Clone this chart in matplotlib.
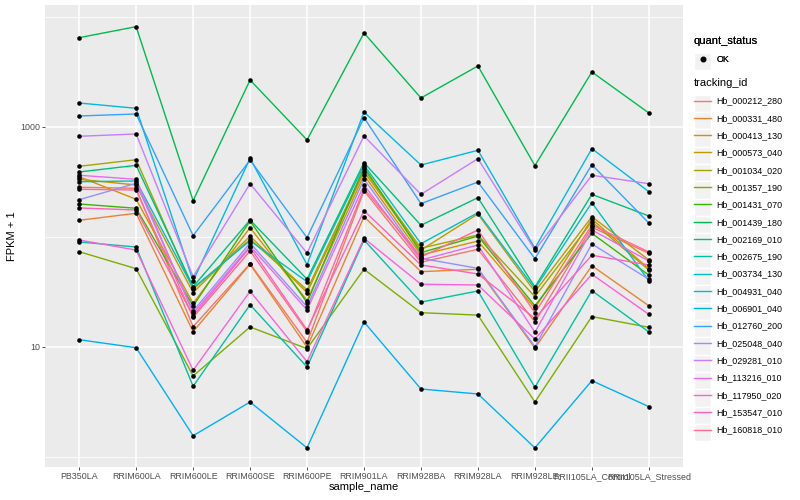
import matplotlib
matplotlib.use('Agg')
import matplotlib.pyplot as plt
from matplotlib.legend_handler import HandlerLine2D
from matplotlib.lines import Line2D
from matplotlib.patches import Rectangle
from matplotlib.ticker import FixedLocator
import numpy as np

plt.rcParams['font.family'] = ['Liberation Sans', 'DejaVu Sans']

# Data (FPKM)
samples = ['PB350LA', 'RRIM600LA', 'RRIM600LE', 'RRIM600SE', 'RRIM600PE',
           'RRIM901LA', 'RRIM928BA', 'RRIM928LA', 'RRIM928LE',
           'RRII105LA_Control', 'RRII105LA_Stressed']

tracking_ids = ['Hb_000212_280', 'Hb_000331_480', 'Hb_000413_130', 'Hb_000573_040',
                'Hb_001034_020', 'Hb_001357_190', 'Hb_001431_070', 'Hb_001439_180',
                'Hb_002169_010', 'Hb_002675_190', 'Hb_003734_130', 'Hb_004931_040',
                'Hb_006901_040', 'Hb_012760_200', 'Hb_025048_040', 'Hb_029281_010',
                'Hb_113216_010', 'Hb_117950_020', 'Hb_153547_010', 'Hb_160818_010']

hb_000212_280 = [282, 276, 14.3, 56.2, 10.0, 262.6, 57.9, 76.3, 15.9, 121.5, 70.1]
hb_000331_480 = [140.8, 163.3, 12.8, 55.5, 8.94, 151.9, 47.4, 49.9, 8.79, 53.8, 22.7]
hb_000413_130 = [352, 219, 23.9, 120.5, 25.4, 365, 67.6, 90.9, 21.5, 144.8, 50.5]
hb_000573_040 = [333.6, 296, 30.2, 101, 30.2, 391, 75, 160.8, 30.8, 151.9, 60.8]
hb_001034_020 = [438, 503, 32.5, 94.3, 32.0, 411.6, 78, 103.3, 27.7, 136.8, 49.1]
hb_001357_190 = [72.5, 50.5, 4.45, 14.2, 8.65, 49.9, 19.5, 18.5, 2.16, 17.9, 14.1]
hb_001431_070 = [198.5, 181.4, 22.6, 138.8, 24.3, 432, 71, 101, 22.7, 107, 44.1]
hb_001439_180 = [6485, 8165, 213, 2673, 761, 7154, 1834, 3585, 444, 3161, 1340]
hb_002169_010 = [389, 447, 34.3, 141.7, 40.3, 473, 126.8, 226.7, 34.1, 243, 154.2]
hb_002675_190 = [89.1, 80.1, 3.39, 23.2, 5.58, 92.9, 24.6, 31.3, 3.30, 31.5, 12.7]
hb_003734_130 = [317, 322, 33.4, 91.6, 38.2, 450, 85.9, 165.3, 32.9, 204, 39]
hb_004931_040 = [1651, 1478, 38.8, 518, 55, 1367, 450, 613, 78, 634, 257]
hb_006901_040 = [10.65, 8.85, 0.56, 2.16, 0.21, 15.88, 3.15, 2.74, 0.21, 3.94, 1.87]
hb_012760_200 = [1258, 1312, 101.8, 500, 97.5, 1215, 199.8, 315, 62.5, 453, 133]
hb_025048_040 = [217.3, 306.7, 20.2, 87.2, 22.2, 335.6, 63, 50.9, 9.06, 85.4, 40.3]
hb_029281_010 = [822, 863, 42.6, 304, 70.5, 827, 243, 514, 75, 363, 304]
hb_113216_010 = [363, 333.6, 19.2, 81.8, 20.7, 296, 60.8, 83.6, 12.6, 114.8, 59.5]
hb_117950_020 = [92.9, 75, 5.14, 31.1, 6.35, 96.3, 36.2, 35.6, 10.8, 44.8, 18.8]
hb_153547_010 = [182.5, 175, 18.25, 79.6, 13.3, 172.4, 54.7, 45.1, 17.2, 67.2, 54.7]
hb_160818_010 = [270.5, 266.4, 17.6, 73.6, 12.8, 273.9, 64.8, 114.8, 19.5, 127.5, 72.1]

series = [hb_000212_280, hb_000331_480, hb_000413_130, hb_000573_040, hb_001034_020,
          hb_001357_190, hb_001431_070, hb_001439_180, hb_002169_010, hb_002675_190,
          hb_003734_130, hb_004931_040, hb_006901_040, hb_012760_200, hb_025048_040,
          hb_029281_010, hb_113216_010, hb_117950_020, hb_153547_010, hb_160818_010]

# ggplot2 default hue palette, 20 levels
colors = ['#F8766D', '#EA8331', '#D89000', '#C09B00', '#A3A500', '#7CAE00', '#39B600',
          '#00BB4E', '#00BF7D', '#00C1A3', '#00BFC4', '#00BAE0', '#00B0F6', '#35A2FF',
          '#9590FF', '#C77CFF', '#E76BF3', '#FA62DB', '#FF62BC', '#FF6C91']


class KeyHandler(HandlerLine2D):
    # legend key with the grey ggplot box behind it, nudged to sit level with the label
    def create_artists(self, legend, orig_handle, xdescent, ydescent, width, height,
                       fontsize, trans):
        arts = super().create_artists(legend, orig_handle, xdescent, ydescent,
                                      width, height, fontsize, trans)
        d = 0.3 * fontsize
        for a in arts:
            a.set_ydata(np.asarray(a.get_ydata(), dtype=float) - d)
        bg = Rectangle((-xdescent, -ydescent - d), width, height, facecolor='#F2F2F2',
                       edgecolor='white', lw=1.0, transform=trans)
        return [bg] + list(arts)


fig = plt.figure(figsize=(8, 5), dpi=100)
ax = fig.add_axes([45/800, 1-467/500, (683-45)/800, (467-5)/500])
ax.set_facecolor('#EBEBEB')
for s in ax.spines.values():
    s.set_visible(False)

x = np.arange(len(samples))
for vals, col in zip(series, colors):
    ax.plot(x, np.array(vals) + 1, color=col, lw=1.0, zorder=2)
for vals in series:
    ax.plot(x, np.array(vals) + 1, 'o', color='black', ms=3.3, mew=0, zorder=3)

ax.set_yscale('log')
ax.set_ylim(0.811, 12850)
ax.set_xlim(-0.6, 10.6)
ax.set_yticks([10, 1000])
ax.set_yticklabels(['10', '1000'])
ax.yaxis.set_minor_locator(FixedLocator([1, 100, 10000]))
ax.yaxis.set_minor_formatter(plt.NullFormatter())
ax.set_xticks(x)
ax.set_xticklabels(samples)
ax.set_axisbelow(True)
ax.grid(which='major', color='white', lw=1.1)
ax.grid(which='minor', axis='y', color='white', lw=0.55)
ax.tick_params(which='major', length=2.0, width=0.6, color='#333333',
               labelcolor='#4D4D4D', labelsize=6.4, pad=1.6)
ax.tick_params(which='minor', length=0)

ax.set_xlabel('sample_name', fontsize=8, labelpad=1)
ax.set_ylabel('FPKM + 1', fontsize=8, labelpad=2)

leg_kw = dict(loc='upper left', frameon=False, fontsize=6.4, title_fontsize=8,
              handler_map={Line2D: KeyHandler()}, handlelength=1.95,
              handleheight=2.62, labelspacing=0, handletextpad=0.6,
              borderpad=0, borderaxespad=0, alignment='left')

h_ok = Line2D([], [], marker='o', color='black', linestyle='none', markersize=3.3)
leg1 = fig.legend([h_ok], ['OK'], title='quant_status',
                  bbox_to_anchor=(694/800, 1-36/500), **leg_kw)
leg1._legend_box.sep = 3
fig.add_artist(leg1)

line_handles = [Line2D([], [], color=c, lw=1.0) for c in colors]
leg2 = fig.legend(line_handles, tracking_ids, title='tracking_id',
                  bbox_to_anchor=(694/800, 1-78/500), **leg_kw)
leg2._legend_box.sep = 3

fig.savefig('out.png', dpi=100)
